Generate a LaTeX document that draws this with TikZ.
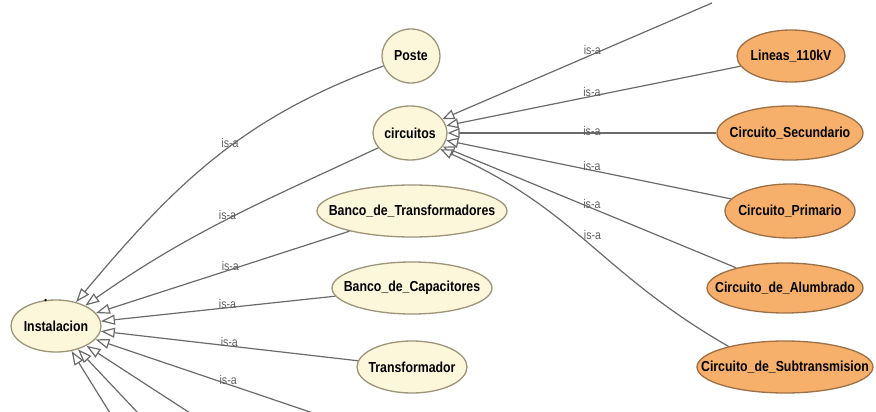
\documentclass[tikz,border=0pt]{standalone}
\usepackage{fontspec}
\setmainfont{Liberation Sans}[FakeStretch=0.85]
\usetikzlibrary{arrows.meta,shapes.geometric}
\definecolor{creamfill}{HTML}{FCF6DA}
\definecolor{creamdraw}{HTML}{9C9478}
\definecolor{orangefill}{HTML}{F6B06B}
\definecolor{orangedraw}{HTML}{9E6F45}
\definecolor{edgegray}{HTML}{6A6A6A}
\definecolor{labelgray}{HTML}{5E5E5E}
\begin{document}
\begin{tikzpicture}[x=1pt,y=1pt,
  base/.style={ellipse, line width=1.3pt, inner sep=0pt, text=black,
    font=\fontsize{14.5}{16}\selectfont\bfseries},
  cls/.style={base, draw=creamdraw, fill=creamfill},
  sub/.style={base, draw=orangedraw, fill=orangefill},
  isa/.style={draw=edgegray, line width=1.2pt,
    -{Triangle[open, fill=white, length=12pt, width=10pt]}},
  isabig/.style={isa, -{Triangle[open, fill=white, length=14pt, width=10pt]}},
  lbl/.style={font=\fontsize{12.5}{13}\selectfont, text=labelgray, inner sep=0pt, yshift=4pt}]
\useasboundingbox (0,0) rectangle (876,-412);
\clip (0,0) rectangle (876,-412);

% nodes
\node[cls, minimum width=90, minimum height=52] (Instalacion) at (56,-326) {\makebox[0pt]{Instalacion}};
\node[cls, minimum width=58, minimum height=54] (poste) at (411,-56) {\makebox[0pt]{Poste}};
\node[cls, minimum width=74, minimum height=54] (circuitos) at (410,-133) {\makebox[0pt]{circuitos}};
\node[cls, minimum width=190, minimum height=52] (bdt) at (412,-211) {\makebox[0pt]{Banco\_de\_Transformadores}};
\node[cls, minimum width=160, minimum height=52] (bdc) at (412,-288) {\makebox[0pt]{Banco\_de\_Capacitores}};
\node[cls, minimum width=110, minimum height=52] (trafo) at (412,-367) {\makebox[0pt]{Transformador}};

\node[sub, minimum width=108, minimum height=52] (lineas) at (791,-56) {\makebox[0pt]{Lineas\_110kV}};
\node[sub, minimum width=146, minimum height=54] (secund) at (790,-133) {\makebox[0pt]{Circuito\_Secundario}};
\node[sub, minimum width=130, minimum height=54] (primario) at (790,-211) {\makebox[0pt]{Circuito\_Primario}};
\node[sub, minimum width=156, minimum height=50] (alumbrado) at (785,-288) {\makebox[0pt]{Circuito\_de\_Alumbrado}};
\node[sub, minimum width=176, minimum height=52] (subtrans) at (785,-367) {\makebox[0pt]{Circuito\_de\_Subtransmision}};

\fill[black] (Instalacion.112) circle (1.3);

% free ends beyond the visible area
\coordinate (i1) at (313,-413);
\coordinate (i2) at (190,-413);
\coordinate (i3) at (138,-413);
\coordinate (i4) at (110,-413);
\coordinate (c0) at (712,-3);

% edges to Instalacion
\draw[isabig] (poste) to[out=200,in=50] node[lbl,pos=0.44]{is-a} (Instalacion);
\draw[isabig] (circuitos) to[out=205,in=35] node[lbl,pos=0.5]{is-a} (Instalacion);
\draw[isabig] (bdt) -- node[lbl,pos=0.47]{is-a} (Instalacion);
\draw[isabig] (bdc) -- node[lbl,pos=0.46]{is-a} (Instalacion);
\draw[isabig] (trafo) -- node[lbl,pos=0.5]{is-a} (Instalacion);
\draw[isabig] (i1) -- node[lbl,pos=0.39]{is-a} (Instalacion);
\draw[isabig] (i2) -- (Instalacion);
\draw[isabig] (i3) -- (Instalacion);
\draw[isabig] (i4) -- (Instalacion);

% edges to circuitos
\draw[isa] (c0) -- node[lbl,pos=0.444]{is-a} (circuitos);
\draw[isa] (lineas) -- node[lbl,pos=0.505]{is-a} (circuitos);
\draw[isa] (secund) -- node[lbl,pos=0.463,yshift=-2pt]{is-a} (circuitos);
\draw[isa] (primario) -- node[lbl,pos=0.488]{is-a} (circuitos);
\draw[isa] (alumbrado) -- node[lbl,pos=0.492]{is-a} (circuitos);
\draw[isa] (subtrans.160) .. controls +(150:150) and +(-24:150) .. node[lbl,pos=0.52,xshift=10pt]{is-a} (circuitos.-28);
\end{tikzpicture}
\end{document}
